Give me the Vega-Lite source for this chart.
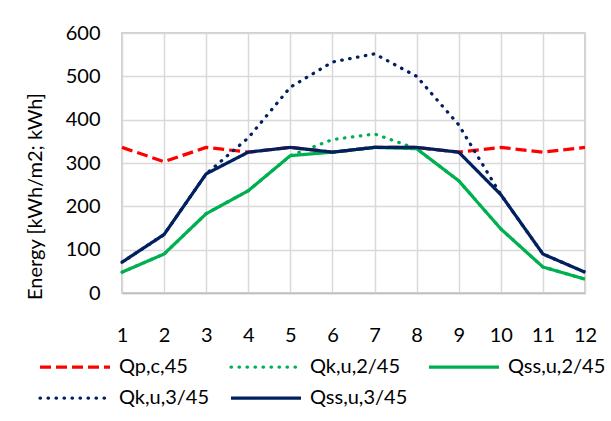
{
  "$schema": "https://vega.github.io/schema/vega-lite/v6.json",
  "width": 463,
  "height": 260,
  "autosize": "none",
  "padding": {"left": 122, "top": 33, "right": 26, "bottom": 128},
  "background": "white",
  "config": {
    "view": {"stroke": "#BFBFBF", "strokeWidth": 1.5},
    "font": "Lato",
    "axis": {
      "labelFont": "Lato", "labelFontSize": 20, "labelColor": "#000000",
      "titleFont": "Lato", "titleFontSize": 20, "titleColor": "#000000", "titleFontWeight": "normal",
      "gridColor": "#D9D9D9", "gridWidth": 1.5, "ticks": false
    }
  },
  "data": {
    "values": [
      {"m": 1, "s": "Qp,c,45", "v": 336}, {"m": 2, "s": "Qp,c,45", "v": 303}, {"m": 3, "s": "Qp,c,45", "v": 336}, {"m": 4, "s": "Qp,c,45", "v": 325}, {"m": 5, "s": "Qp,c,45", "v": 336}, {"m": 6, "s": "Qp,c,45", "v": 325}, {"m": 7, "s": "Qp,c,45", "v": 336}, {"m": 8, "s": "Qp,c,45", "v": 336}, {"m": 9, "s": "Qp,c,45", "v": 325}, {"m": 10, "s": "Qp,c,45", "v": 336}, {"m": 11, "s": "Qp,c,45", "v": 325}, {"m": 12, "s": "Qp,c,45", "v": 336},
      {"m": 1, "s": "Qk,u,2/45", "v": 48}, {"m": 2, "s": "Qk,u,2/45", "v": 90}, {"m": 3, "s": "Qk,u,2/45", "v": 183}, {"m": 4, "s": "Qk,u,2/45", "v": 236}, {"m": 5, "s": "Qk,u,2/45", "v": 317}, {"m": 6, "s": "Qk,u,2/45", "v": 354}, {"m": 7, "s": "Qk,u,2/45", "v": 367}, {"m": 8, "s": "Qk,u,2/45", "v": 333}, {"m": 9, "s": "Qk,u,2/45", "v": 259}, {"m": 10, "s": "Qk,u,2/45", "v": 148}, {"m": 11, "s": "Qk,u,2/45", "v": 60}, {"m": 12, "s": "Qk,u,2/45", "v": 32},
      {"m": 1, "s": "Qss,u,2/45", "v": 48}, {"m": 2, "s": "Qss,u,2/45", "v": 90}, {"m": 3, "s": "Qss,u,2/45", "v": 183}, {"m": 4, "s": "Qss,u,2/45", "v": 236}, {"m": 5, "s": "Qss,u,2/45", "v": 317}, {"m": 6, "s": "Qss,u,2/45", "v": 325}, {"m": 7, "s": "Qss,u,2/45", "v": 336}, {"m": 8, "s": "Qss,u,2/45", "v": 333}, {"m": 9, "s": "Qss,u,2/45", "v": 259}, {"m": 10, "s": "Qss,u,2/45", "v": 148}, {"m": 11, "s": "Qss,u,2/45", "v": 60}, {"m": 12, "s": "Qss,u,2/45", "v": 32},
      {"m": 1, "s": "Qk,u,3/45", "v": 71}, {"m": 2, "s": "Qk,u,3/45", "v": 135}, {"m": 3, "s": "Qk,u,3/45", "v": 275}, {"m": 4, "s": "Qk,u,3/45", "v": 358}, {"m": 5, "s": "Qk,u,3/45", "v": 475}, {"m": 6, "s": "Qk,u,3/45", "v": 533}, {"m": 7, "s": "Qk,u,3/45", "v": 552}, {"m": 8, "s": "Qk,u,3/45", "v": 500}, {"m": 9, "s": "Qk,u,3/45", "v": 388}, {"m": 10, "s": "Qk,u,3/45", "v": 227}, {"m": 11, "s": "Qk,u,3/45", "v": 90}, {"m": 12, "s": "Qk,u,3/45", "v": 48},
      {"m": 1, "s": "Qss,u,3/45", "v": 71}, {"m": 2, "s": "Qss,u,3/45", "v": 135}, {"m": 3, "s": "Qss,u,3/45", "v": 275}, {"m": 4, "s": "Qss,u,3/45", "v": 325}, {"m": 5, "s": "Qss,u,3/45", "v": 336}, {"m": 6, "s": "Qss,u,3/45", "v": 325}, {"m": 7, "s": "Qss,u,3/45", "v": 336}, {"m": 8, "s": "Qss,u,3/45", "v": 336}, {"m": 9, "s": "Qss,u,3/45", "v": 325}, {"m": 10, "s": "Qss,u,3/45", "v": 227}, {"m": 11, "s": "Qss,u,3/45", "v": 90}, {"m": 12, "s": "Qss,u,3/45", "v": 48}
    ]
  },
  "encoding": {
    "x": {
      "field": "m", "type": "quantitative",
      "scale": {"domain": [1, 12], "nice": false, "zero": false},
      "axis": {"values": [1,2,3,4,5,6,7,8,9,10,11,12], "title": null, "labelPadding": 32, "domainColor": "#BFBFBF", "domainWidth": 1.5, "labelFlush": false}
    },
    "y": {
      "field": "v", "type": "quantitative",
      "scale": {"domain": [0, 600], "nice": false},
      "axis": {"values": [0,100,200,300,400,500,600], "title": "Energy [kWh/m2; kWh]", "labelPadding": 22, "domain": false, "titleX": -87, "titleY": 163, "titleAngle": 270, "titleAlign": "center", "titleBaseline": "middle"}
    },
    "color": {
      "field": "s", "type": "nominal",
      "scale": {"domain": ["Qp,c,45", "Qk,u,2/45", "Qss,u,2/45", "Qk,u,3/45", "Qss,u,3/45"], "range": ["#FF0000", "#00B050", "#00B050", "#002060", "#002060"]},
      "legend": {
        "title": null, "orient": "none", "legendX": -84, "legendY": 324, "direction": "horizontal", "columns": 3,
        "symbolType": "stroke", "symbolSize": 4900, "symbolStrokeWidth": 3.25, "clipHeight": 20,
        "labelFont": "Lato", "labelFontSize": 20, "labelColor": "#000000", "labelOffset": 7, "labelLimit": 300,
        "columnPadding": 19, "rowPadding": 11, "padding": 0,
        "encode": {"symbols": {"update": {"strokeCap": {"signal": "indexof(datum.value, 'Qk') === 0 ? 'round' : 'butt'"}}}}
      }
    },
    "strokeDash": {
      "field": "s", "type": "nominal",
      "scale": {"domain": ["Qp,c,45", "Qk,u,2/45", "Qss,u,2/45", "Qk,u,3/45", "Qss,u,3/45"], "range": [[11, 5], [0.5, 7.5], [1, 0], [0.5, 7.5], [1, 0]]},
      "legend": {
        "title": null, "orient": "none", "legendX": -84, "legendY": 324, "direction": "horizontal", "columns": 3,
        "symbolType": "stroke", "symbolSize": 4900, "symbolStrokeWidth": 3.25, "clipHeight": 20,
        "labelFont": "Lato", "labelFontSize": 20, "labelColor": "#000000", "labelOffset": 7, "labelLimit": 300,
        "columnPadding": 19, "rowPadding": 11, "padding": 0,
        "encode": {"symbols": {"update": {"strokeCap": {"signal": "indexof(datum.value, 'Qk') === 0 ? 'round' : 'butt'"}}}}
      }
    }
  },
  "layer": [
    {"transform": [{"filter": "datum.s === 'Qp,c,45'"}], "mark": {"type": "line", "strokeWidth": 3.25, "strokeCap": "butt", "strokeJoin": "round"}},
    {"transform": [{"filter": "indexof(datum.s, 'Qk') === 0"}], "mark": {"type": "line", "strokeWidth": 3.25, "strokeCap": "round", "strokeJoin": "round"}},
    {"transform": [{"filter": "indexof(datum.s, 'Qss') === 0"}], "mark": {"type": "line", "strokeWidth": 3.25, "strokeCap": "butt", "strokeJoin": "round"}}
  ]
}
